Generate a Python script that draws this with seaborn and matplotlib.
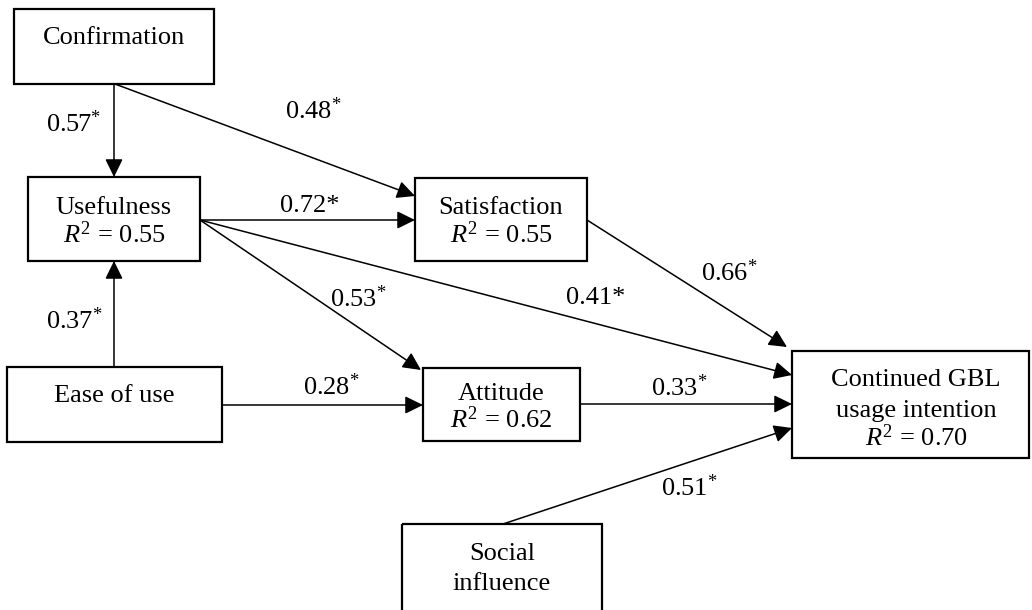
import matplotlib
matplotlib.use("Agg")
import matplotlib.pyplot as plt
import seaborn as sns
from matplotlib.patches import Rectangle

# data: constructs, R squared and path coefficients
nodes = ["Confirmation", "Usefulness", "Ease of use", "Satisfaction",
         "Attitude", "Continued GBL\nusage intention", "Social\ninfluence"]
r_squared = [None, 0.55, None, 0.55, 0.62, 0.70, None]
path_from = ["Confirmation", "Confirmation", "Usefulness", "Usefulness", "Usefulness",
             "Ease of use", "Ease of use", "Satisfaction", "Attitude", "Social\ninfluence"]
path_to = ["Usefulness", "Satisfaction", "Satisfaction", "Continued GBL\nusage intention",
           "Attitude", "Usefulness", "Attitude", "Continued GBL\nusage intention",
           "Continued GBL\nusage intention", "Continued GBL\nusage intention"]
coefs = [0.57, 0.48, 0.72, 0.41, 0.53, 0.37, 0.28, 0.66, 0.33, 0.51]
big_star = [False, False, True, True, False, False, False, False, False, False]

# layout (pixel space)
boxes = {  # x0, y0, x1, y1
    "Confirmation": (14, 9, 214, 84),
    "Usefulness": (28, 177, 200, 261),
    "Ease of use": (7, 367, 222, 442),
    "Satisfaction": (415, 178, 587, 261),
    "Attitude": (423, 368, 580, 441),
    "Continued GBL\nusage intention": (792, 351, 1029, 458),
    "Social\ninfluence": (402, 524, 602, 612),
}
# x centre and y of each text line
text_pos = {
    "Confirmation": (114, [36]),
    "Usefulness": (114, [206, 232]),
    "Ease of use": (114, [394]),
    "Satisfaction": (501, [206, 232]),
    "Attitude": (501, [392, 417]),
    "Continued GBL\nusage intention": (916, [377, 408, 435]),
    "Social\ninfluence": (502, [552, 582]),
}
arrow_pts = [
    ((114, 84), (114, 177)),
    ((115, 84), (415, 196)),
    ((200, 220), (415, 220)),
    ((200, 220), (792, 375)),
    ((200, 220), (421, 370)),
    ((114, 367), (114, 261)),
    ((222, 405), (423, 405)),
    ((587, 220), (787, 347)),
    ((580, 404), (792, 404)),
    ((503, 524), (792, 428)),
]
label_pos = [(74, 121), (313, 108), (310, 203), (596, 296), (358, 296),
             (74, 318), (331, 384), (729, 270), (679, 385), (689, 485)]

sns.set_theme(style="white")
plt.rcParams["font.family"] = ["Liberation Serif", "DejaVu Serif"]
plt.rcParams["mathtext.fontset"] = "custom"
plt.rcParams["mathtext.rm"] = "Liberation Serif"
plt.rcParams["mathtext.it"] = "Liberation Serif:italic"

fig = plt.figure(figsize=(10.32, 6.10), dpi=100)
ax = fig.add_axes([0, 0, 1, 1])
ax.set_xlim(0, 1032)
ax.set_ylim(610, 0)
ax.axis("off")

fs = 19
for name, r2 in zip(nodes, r_squared):
    x0, y0, x1, y1 = boxes[name]
    ax.add_patch(Rectangle((x0, y0), x1 - x0, y1 - y0, fill=False,
                           ec="black", lw=1.6, zorder=2))
    lines = name.split("\n")
    if r2 is not None:
        lines.append(r"$R^{2}$" + f" = {r2:.2f}")
    tx, ys = text_pos[name]
    for line, ty in zip(lines, ys):
        ax.text(tx, ty, line, ha="center", va="center_baseline", fontsize=fs,
                color="black")

for (p0, p1), c, big, lp in zip(arrow_pts, coefs, big_star, label_pos):
    ax.annotate("", xy=p1, xytext=p0,
                arrowprops=dict(arrowstyle="-|>,head_length=0.55,head_width=0.27",
                                mutation_scale=20, lw=1.1, color="black",
                                shrinkA=0, shrinkB=0))
    if big:
        s = f"{c:.2f}*"
    else:
        s = f"{c:.2f}" + r"$^{*}$"
    ax.text(lp[0], lp[1], s, ha="center", va="center_baseline", fontsize=fs,
            color="black")

fig.savefig("out.png", dpi=100, facecolor="white")
